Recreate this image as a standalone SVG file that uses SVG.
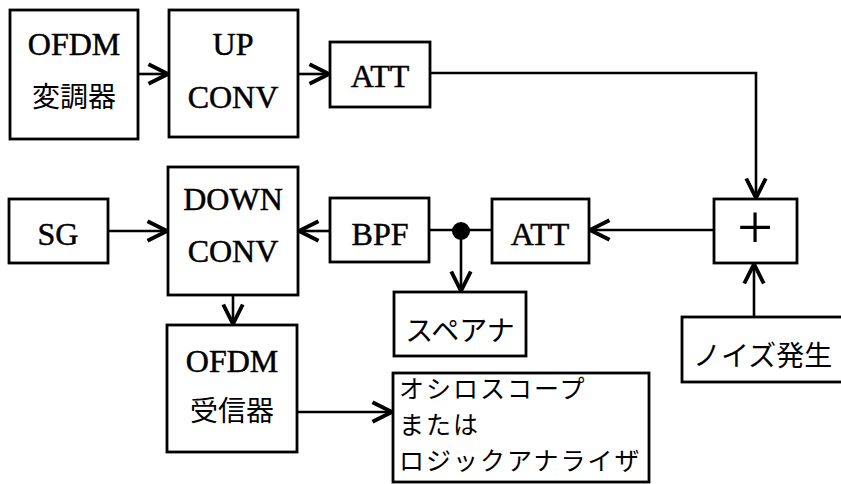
<svg xmlns="http://www.w3.org/2000/svg" width="841" height="484" viewBox="0 0 841 484">
<style>
.box{fill:#fff;stroke:#000;stroke-width:2.8}
.en{font-family:"Liberation Serif",serif;font-size:32px;fill:#000;text-anchor:middle;stroke:#000;stroke-width:0.5}
.ja{font-family:"Noto Sans CJK JP",sans-serif;font-size:28px;fill:#000}
.jc{text-anchor:middle}
.sc{font-size:25px;letter-spacing:2px}
.ln{fill:none;stroke:#000;stroke-width:2.6}
</style>
<defs>
<marker id="arr" markerUnits="userSpaceOnUse" markerWidth="30" markerHeight="30" viewBox="-15 -10 20 20" refX="0" refY="0" orient="auto">
<path d="M-13,-6.5 L0,0 L-13,6.5" fill="none" stroke="#000" stroke-width="2.6"/>
</marker>
</defs>
<rect width="841" height="484" fill="#fff"/>
<g id="connectors">
<line class="ln" x1="138" y1="74" x2="168" y2="74" marker-end="url(#arr)"/>
<line class="ln" x1="298" y1="74" x2="329" y2="74" marker-end="url(#arr)"/>
<path class="ln" d="M430,73 H756 V198" marker-end="url(#arr)"/>
<line class="ln" x1="714" y1="230" x2="590" y2="230" marker-end="url(#arr)"/>
<line class="ln" x1="492" y1="230" x2="429" y2="230"/>
<circle cx="461" cy="231" r="9" fill="#000"/>
<line class="ln" x1="461" y1="231" x2="461" y2="291" marker-end="url(#arr)"/>
<line class="ln" x1="330" y1="231" x2="299" y2="231" marker-end="url(#arr)"/>
<line class="ln" x1="108" y1="231" x2="167" y2="231" marker-end="url(#arr)"/>
<line class="ln" x1="233" y1="295" x2="233" y2="324" marker-end="url(#arr)"/>
<line class="ln" x1="297" y1="412" x2="392" y2="412" marker-end="url(#arr)"/>
<line class="ln" x1="754" y1="317" x2="754" y2="264" marker-end="url(#arr)"/>
</g>
<g id="ofdm-mod">
<rect class="box" x="10" y="10" width="128" height="129"/>
<text class="en" x="74" y="55">OFDM</text>
<text class="ja jc" x="74" y="107" font-size="29">変調器</text>
</g>
<g id="up-conv">
<rect class="box" x="169" y="10" width="129" height="127"/>
<text class="en" x="233" y="55">UP</text>
<text class="en" x="233" y="108">CONV</text>
</g>
<g id="att1">
<rect class="box" x="330" y="42" width="100" height="65"/>
<text class="en" x="380" y="87">ATT</text>
</g>
<g id="sg">
<rect class="box" x="9" y="199" width="99" height="64"/>
<text class="en" x="58" y="245">SG</text>
</g>
<g id="down-conv">
<rect class="box" x="168" y="167" width="130" height="128"/>
<text class="en" x="233" y="210">DOWN</text>
<text class="en" x="233" y="262">CONV</text>
</g>
<g id="bpf">
<rect class="box" x="330" y="198" width="99" height="64"/>
<text class="en" x="380" y="245">BPF</text>
</g>
<g id="att2">
<rect class="box" x="492" y="199" width="97" height="64"/>
<text class="en" x="540" y="245">ATT</text>
</g>
<g id="sum">
<rect class="box" x="714" y="199" width="83" height="64"/>
<text x="755" y="249" font-family="Liberation Serif,serif" font-size="64" text-anchor="middle" fill="#000">+</text>
</g>
<g id="spectrum">
<rect class="box" x="394" y="292" width="132" height="64"/>
<text class="ja jc" x="460" y="341">スペアナ</text>
</g>
<g id="noise">
<rect class="box" x="682" y="317" width="170" height="65"/>
<text class="ja" x="693" y="366" font-size="29">ノイズ発生</text>
</g>
<g id="ofdm-rx">
<rect class="box" x="167" y="325" width="130" height="127"/>
<text class="en" x="232" y="372">OFDM</text>
<text class="ja jc" x="232" y="421" font-size="29">受信器</text>
</g>
<g id="scope">
<rect class="box" x="393" y="373" width="256" height="109"/>
<text class="ja sc" x="399" y="398">オシロスコープ</text>
<text class="ja sc" x="399" y="434">または</text>
<text class="ja sc" x="399" y="470">ロジックアナライザ</text>
</g>
</svg>
